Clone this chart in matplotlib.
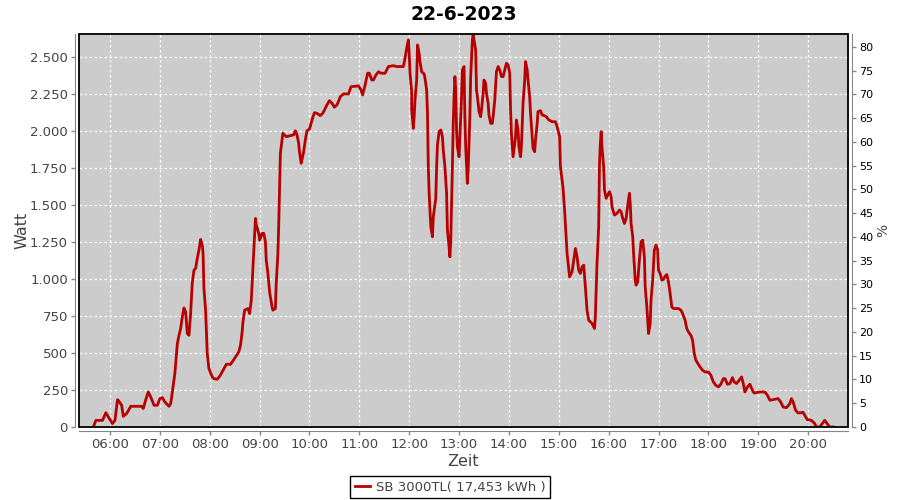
import matplotlib
matplotlib.use("Agg")
import matplotlib.pyplot as plt
from matplotlib.patches import Rectangle
from matplotlib.ticker import FuncFormatter, MultipleLocator

title = "22-6-2023"
series_name = "SB 3000TL( 17,453 kWh )"

# minutes since midnight
minutes = [
    340, 343, 351, 355, 358, 363, 366, 369, 370, 374, 376, 380, 385, 398, 400, 403,
    406, 409, 413, 417, 420, 423, 426, 431, 433, 435, 438, 441, 443, 445, 447, 449,
    451, 453, 455, 457, 459, 461, 463, 465, 467, 469, 471, 472, 473, 475, 477, 479,
    483, 485, 489, 492, 496, 500, 505, 509, 515, 517, 519, 520, 522, 526, 528, 530,
    532, 533, 535, 536, 539, 540, 543, 545, 547, 548, 550, 552, 555, 556, 559, 560,
    562, 563, 564, 565, 567, 568, 572, 581, 583, 585, 587, 588, 590, 591, 593, 595,
    597, 600, 602, 604, 606, 609, 613, 616, 619, 621, 624, 627, 630, 633, 636, 637,
    641, 647, 650, 659, 662, 664, 667, 670, 672, 675, 677, 680, 683, 686, 691, 695,
    701, 705, 713, 715, 717, 719, 720, 721, 723, 723, 725, 726, 727, 729, 730, 732,
    733, 735, 738, 739, 741, 742, 743, 744, 746, 748, 749, 752, 753, 754, 756, 758,
    760, 761, 763, 765, 766, 768, 769, 770, 772, 773, 774, 775, 776, 777, 778, 780,
    781, 783, 784, 786, 787, 788, 790, 791, 792, 793, 794, 796, 797, 798, 800, 801,
    803, 804, 806, 807, 809, 810, 812, 813, 815, 816, 818, 820, 821, 823, 824, 825,
    827, 829, 831, 833, 835, 837, 839, 841, 842, 843, 845, 846, 848, 849, 851, 852,
    854, 855, 857, 859, 860, 862, 863, 865, 866, 868, 869, 871, 872, 874, 875, 878,
    880, 881, 885, 888, 892, 896, 898, 901, 902, 905, 907, 909, 910, 912, 913, 916,
    918, 920, 922, 924, 926, 928, 930, 932, 934, 936, 940, 943, 944, 946, 948, 949,
    950, 951, 952, 954, 955, 957, 959, 961, 963, 964, 967, 970, 973, 975, 977, 979,
    981, 983, 985, 986, 987, 989, 990, 992, 993, 995, 997, 999, 1001, 1003, 1004, 1006,
    1008, 1010, 1011, 1013, 1015, 1017, 1019, 1020, 1022, 1024, 1026, 1028, 1030, 1032, 1034, 1036,
    1038, 1044, 1047, 1049, 1052, 1054, 1056, 1059, 1061, 1063, 1065, 1068, 1070, 1073, 1076, 1080,
    1083, 1086, 1089, 1092, 1095, 1098, 1100, 1103, 1106, 1109, 1111, 1114, 1117, 1120, 1122, 1124,
    1127, 1130, 1133, 1135, 1142, 1148, 1151, 1154, 1158, 1164, 1167, 1170, 1174, 1178, 1180, 1182,
    1185, 1188, 1194, 1196, 1199, 1204, 1208, 1210, 1214, 1217, 1220, 1223, 1226, 1230,
]

watt = [
    0, 45, 45, 97, 68, 23, 45, 185, 180, 147, 72, 91, 140, 140, 125, 185,
    237, 203, 147, 147, 192, 199, 169, 140, 158, 237, 361, 564, 620, 666, 745, 805,
    778, 632, 620, 767, 975, 1060, 1072, 1140, 1196, 1268, 1230, 1173, 937, 790, 497, 395,
    338, 327, 323, 343, 384, 424, 424, 456, 508, 553, 643, 711, 790, 801, 767, 857,
    1083, 1207, 1410, 1365, 1309, 1263, 1309, 1309, 1252, 1128, 1038, 914, 812, 790, 801, 970,
    1173, 1365, 1602, 1850, 1940, 1986, 1963, 1975, 2003, 1975, 1918, 1861, 1783, 1806, 1861, 1940,
    2003, 2013, 2053, 2094, 2125, 2121, 2105, 2121, 2155, 2177, 2206, 2190, 2162, 2177, 2216, 2233,
    2252, 2252, 2301, 2306, 2279, 2245, 2313, 2392, 2392, 2346, 2346, 2380, 2402, 2392, 2392, 2437,
    2443, 2437, 2437, 2493, 2561, 2617, 2527, 2392, 2267, 2143, 2019, 2098, 2211, 2346, 2583, 2527,
    2470, 2402, 2387, 2358, 2279, 2121, 1760, 1580, 1354, 1286, 1421, 1546, 1760, 1906, 1997, 2008,
    1963, 1873, 1760, 1580, 1331, 1218, 1150, 1263, 1760, 2053, 2233, 2369, 2279, 2008, 1895, 1827,
    1963, 2233, 2414, 2437, 2098, 1895, 1647, 1737, 1918, 2098, 2369, 2617, 2655, 2617, 2549, 2279,
    2188, 2132, 2098, 2143, 2256, 2346, 2324, 2256, 2188, 2109, 2053, 2053, 2098, 2211, 2301, 2402,
    2437, 2414, 2369, 2369, 2414, 2459, 2448, 2392, 2143, 1986, 1827, 1873, 1963, 2076, 2008, 1895,
    1827, 1895, 2188, 2346, 2470, 2414, 2346, 2233, 2121, 1963, 1884, 1861, 1940, 2053, 2132, 2139,
    2109, 2109, 2098, 2076, 2064, 2064, 2030, 1963, 1760, 1624, 1467, 1263, 1173, 1072, 1015, 1049,
    1128, 1207, 1150, 1060, 1038, 1083, 1094, 947, 790, 722, 700, 666, 745, 1106, 1354, 1783,
    1918, 1997, 1895, 1760, 1602, 1546, 1568, 1591, 1557, 1489, 1433, 1444, 1467, 1455, 1410, 1376,
    1410, 1500, 1580, 1512, 1376, 1286, 1173, 993, 959, 981, 1128, 1252, 1263, 1150, 947, 812,
    632, 700, 857, 993, 1196, 1230, 1196, 1060, 1038, 993, 998, 1020, 1031, 981, 903, 812,
    801, 801, 790, 767, 722, 666, 643, 620, 587, 497, 451, 424, 406, 384, 372, 372,
    350, 305, 282, 271, 289, 327, 327, 289, 294, 334, 305, 294, 316, 338, 294, 237,
    271, 289, 248, 230, 237, 237, 215, 181, 185, 192, 169, 135, 131, 158, 192, 169,
    113, 95, 99, 79, 50, 45, 23, 0, 0, 23, 45, 23, 0, 0,
]

hour_ticks = list(range(6, 21))
hour_labels = [f"{h:02d}:00" for h in hour_ticks]

plt.rcParams["font.family"] = "DejaVu Sans"
text_col = "#444444"
axis_col = "#888888"

fig = plt.figure(figsize=(9, 5), dpi=100)
ax = fig.add_axes([0.0878, 0.146, 0.8544, 0.786])
ax.set_facecolor("#CCCCCC")

ax.plot(minutes, watt, color="#B80000", lw=2, label=series_name, zorder=3)

ax.set_xlim(322.7, 1248)
ax.set_ylim(0, 2657)
ax.set_xticks([h * 60 for h in hour_ticks])
ax.set_xticklabels(hour_labels)
ax.yaxis.set_major_locator(MultipleLocator(250))
ax.yaxis.set_major_formatter(FuncFormatter(lambda v, p: f"{int(v):,}".replace(",", ".")))

ax.grid(True, color="white", ls=(0, (2, 2)), lw=0.9)
ax.set_axisbelow(True)

for side in ["top", "right"]:
    ax.spines[side].set_visible(False)
for side in ["left", "bottom"]:
    ax.spines[side].set_position(("outward", 3))
    ax.spines[side].set_color(axis_col)
ax.tick_params(axis="both", colors=axis_col, labelcolor=text_col, labelsize=9.5,
               length=3, width=1, pad=2)

# black frame around the plot area
ax.add_patch(Rectangle((0, 0), 1, 1, transform=ax.transAxes, fill=False,
                       edgecolor="black", lw=1.3, zorder=5, clip_on=False))

ax2 = ax.twinx()
ax2.set_ylim(0, 82.7)
ax2.yaxis.set_major_locator(MultipleLocator(5))
for side in ["top", "left", "bottom"]:
    ax2.spines[side].set_visible(False)
ax2.spines["right"].set_position(("outward", 3))
ax2.spines["right"].set_color(axis_col)
ax2.tick_params(axis="y", colors=axis_col, labelcolor="black", labelsize=8,
                length=3, width=1, pad=2)
ax2.set_ylabel("%", fontsize=10, color=text_col, labelpad=2)

ax.set_xlabel("Zeit", fontsize=11.5, color=text_col, labelpad=2)
ax.set_ylabel("Watt", fontsize=11.5, color=text_col, labelpad=0)
ax.set_title(title, fontsize=13.5, fontweight="bold", pad=10)

leg = fig.legend(loc="lower center", bbox_to_anchor=(0.5, -0.01), fontsize=9.5,
                 fancybox=False, edgecolor="black", framealpha=1, handlelength=1.2,
                 borderpad=0.35, handletextpad=0.4, labelcolor=text_col)
leg.get_frame().set_linewidth(1)

fig.savefig("out.png", dpi=100)
